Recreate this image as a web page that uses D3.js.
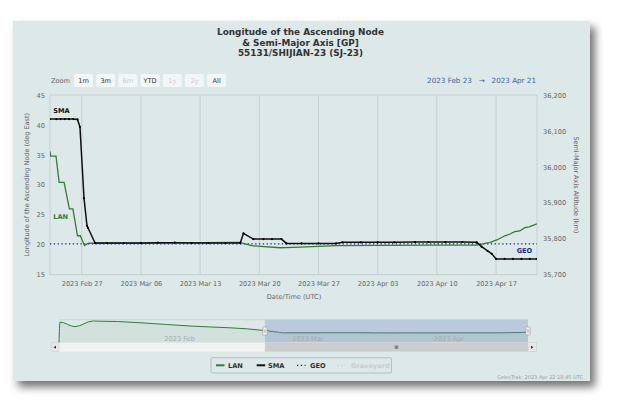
<!DOCTYPE html>
<html><head><meta charset="utf-8">
<script src="https://cdn.jsdelivr.net/npm/d3@7"></script>
<style>
html,body{margin:0;padding:0;background:#fff;}
svg{display:block;font-family:"DejaVu Sans",sans-serif;}
</style></head>
<body>
<svg id="chart" width="625" height="418"></svg>
<script>
// ---------------- DATA ----------------
const titleLines = ["Longitude of the Ascending Node", "& Semi-Major Axis [GP]", "55131/SHIJIAN-23 (SJ-23)"];
const xTickDates = ["2023-02-27","2023-03-06","2023-03-13","2023-03-20","2023-03-27","2023-04-03","2023-04-10","2023-04-17"];
const leftTicks = [15,20,25,30,35,40,45];
const rightTicks = [35700,35800,35900,36000,36100,36200];
const navMonthTicks = ["2023-02-01","2023-03-01","2023-04-01"];
const rangeButtons = ["1m","3m","6m","YTD","1y","2y","All"];
const disabledButtons = ["6m","1y","2y"];
const legendItems = ["LAN","SMA","GEO","Graveyard"];
const geoValue = 35786;

const smaTimes = ["2023-02-23T06:00","2023-02-24T00:00","2023-02-24T12:00","2023-02-25T00:00","2023-02-25T12:00","2023-02-26T00:00","2023-02-26T12:00","2023-02-26T19:00","2023-02-27T06:30","2023-02-27T15:00","2023-02-27T18:00","2023-02-28T14:00","2023-03-02T00:00","2023-03-04T00:00","2023-03-06T00:00","2023-03-08T00:00","2023-03-10T00:00","2023-03-12T00:00","2023-03-14T00:00","2023-03-16T00:00","2023-03-17T18:00","2023-03-18T03:00","2023-03-19T07:00","2023-03-20T12:00","2023-03-21T12:00","2023-03-22T15:00","2023-03-23T05:00","2023-03-25T00:00","2023-03-27T00:00","2023-03-29T02:00","2023-03-29T20:00","2023-04-01T00:00","2023-04-03T00:00","2023-04-05T00:00","2023-04-07T10:00","2023-04-09T00:00","2023-04-11T00:00","2023-04-13T00:00","2023-04-14T17:00","2023-04-15T07:00","2023-04-16T00:00","2023-04-16T12:00","2023-04-17T00:00","2023-04-18T00:00","2023-04-19T00:00","2023-04-20T00:00","2023-04-21T00:00","2023-04-21T20:00"];
const smaValues = [36133,36133,36133,36133,36133,36133,36132,36111,35913,35836,35830,35788,35788,35788,35788,35789,35789,35788,35788,35788,35788,35815,35799,35799,35799,35799,35787,35787,35787,35787,35790,35790,35790,35790,35791,35791,35791,35791,35790,35778,35766,35758,35744,35744,35744,35744,35744,35744];

const lanTimes = ["2023-02-23T06:00","2023-02-23T08:00","2023-02-23T23:00","2023-02-24T08:00","2023-02-24T22:00","2023-02-25T13:00","2023-02-25T23:00","2023-02-26T12:00","2023-02-26T20:00","2023-02-27T08:00","2023-02-27T19:00","2023-03-06T00:00","2023-03-13T00:00","2023-03-17T16:00","2023-03-19T02:00","2023-03-22T11:00","2023-03-24T00:00","2023-03-29T05:00","2023-04-03T00:00","2023-04-10T00:00","2023-04-14T17:00","2023-04-16T07:00","2023-04-17T02:00","2023-04-18T01:00","2023-04-18T14:00","2023-04-19T05:00","2023-04-19T19:00","2023-04-20T10:00","2023-04-20T22:00","2023-04-21T20:00"];
const lanValues = [35.6,34.8,34.8,30.4,30.4,26.0,26.0,21.5,21.5,19.85,20.25,20.25,20.35,20.4,19.85,19.5,19.55,19.85,19.9,19.95,19.95,20.4,20.8,21.5,21.75,22.2,22.3,22.85,23.0,23.5];

const navEarlyTimes = ["2023-01-09T04:00","2023-01-09T09:00","2023-01-12T16:00","2023-01-16T14:00","2023-02-07T00:00"];
const navEarlyValues = [-45,93,62,100,66];

// ---------------- SETUP ----------------
const parse = d3.utcParse("%Y-%m-%dT%H:%M");
const parseDay = d3.utcParse("%Y-%m-%d");
const sma = smaTimes.map((t,i)=>({t:parse(t), v:smaValues[i]}));
const lan = lanTimes.map((t,i)=>({t:parse(t), v:lanValues[i]}));
const nav = navEarlyTimes.map((t,i)=>({t:parse(t), v:navEarlyValues[i]})).concat(lan);

const svg = d3.select("#chart");
const FONT = "DejaVu Sans, sans-serif";
const green = "#2f7d36";

const defs = svg.append("defs");
const f = defs.append("filter").attr("id","shadow").attr("x","-10%").attr("y","-10%").attr("width","125%").attr("height","130%");
f.append("feDropShadow").attr("dx",5).attr("dy",6).attr("stdDeviation",4).attr("flood-color","#000").attr("flood-opacity",0.55);

// card
svg.append("rect").attr("x",13).attr("y",21).attr("width",577).attr("height",360)
  .attr("fill","#dde8e8").attr("filter","url(#shadow)");

// title
svg.append("g").selectAll("text").data(titleLines).join("text")
  .attr("x",300.5).attr("y",(d,i)=>31.7+i*10.8).attr("dy","0.35em")
  .attr("text-anchor","middle").attr("font-weight","bold").attr("font-size",8.9)
  .attr("fill","#333").text(d=>d);

// range selector
svg.append("text").attr("x",51).attr("y",80.7).attr("dy","0.35em").attr("font-size",6.6).attr("fill","#666").text("Zoom");
const btn = svg.append("g").selectAll("g").data(rangeButtons).join("g")
  .attr("transform",(d,i)=>`translate(${74+i*22.2},74)`);
btn.append("rect").attr("width",19).attr("height",13).attr("rx",1.5).attr("fill","#f3f6f6");
btn.append("text").attr("x",9.5).attr("y",6.7).attr("dy","0.35em").attr("text-anchor","middle")
  .attr("font-size",6.6).attr("fill",d=>disabledButtons.includes(d)?"#cfc8cc":"#333").text(d=>d);
svg.append("text").attr("x",536).attr("y",80.7).attr("dy","0.35em").attr("text-anchor","end")
  .attr("font-size",7.2).attr("fill","#3f5f9a").text("2023 Feb 23\u00a0\u00a0\u00a0\u2192\u00a0\u00a0\u00a02023 Apr 21");

// scales
const plot = {l:50, r:537, t:95, b:274.7};
const x = d3.scaleUtc().domain([parse("2023-02-23T06:00"), parse("2023-04-21T20:10")]).range([plot.l, plot.r]);
const yL = d3.scaleLinear().domain([15,45]).range([plot.b, plot.t]);
const yR = d3.scaleLinear().domain([35700,36200]).range([plot.b, plot.t]);

// gridlines
const xt = xTickDates.map(parseDay);
svg.append("g").selectAll("line").data(xt).join("line")
  .attr("x1",d=>x(d)).attr("x2",d=>x(d)).attr("y1",plot.t).attr("y2",plot.b)
  .attr("stroke","#c3cccc").attr("stroke-width",0.8);
svg.append("rect").attr("x",plot.l).attr("y",plot.t).attr("width",plot.r-plot.l).attr("height",plot.b-plot.t)
  .attr("fill","none").attr("stroke","#c3cccc").attr("stroke-width",0.8);

// axes
function styleAxis(g){
  g.select(".domain").remove();
  g.selectAll(".tick line").remove();
  g.selectAll("text").attr("font-family",FONT).attr("font-size",6.6).attr("fill","#666");
}
svg.append("g").attr("transform",`translate(0,${plot.b})`)
  .call(d3.axisBottom(x).tickValues(xt).tickFormat(d3.utcFormat("%Y %b %d")).tickSize(0).tickPadding(7))
  .call(styleAxis);
svg.append("g").attr("transform",`translate(${plot.l},0)`)
  .call(d3.axisLeft(yL).tickValues(leftTicks).tickSize(0).tickPadding(5))
  .call(styleAxis);
svg.append("g").attr("transform",`translate(${plot.r},0)`)
  .call(d3.axisRight(yR).tickValues(rightTicks).tickFormat(d3.format(",")).tickSize(0).tickPadding(6))
  .call(styleAxis);

// axis titles
svg.append("text").attr("transform",`translate(26.5,${(plot.t+plot.b)/2}) rotate(-90)`).attr("dy","0.35em")
  .attr("text-anchor","middle").attr("font-size",6.5).attr("fill","#666").text("Longitude of the Ascending Node (deg East)");
svg.append("text").attr("transform",`translate(576,${(plot.t+plot.b)/2}) rotate(90)`).attr("dy","0.35em")
  .attr("text-anchor","middle").attr("font-size",6.5).attr("fill","#666").text("Semi-Major Axis Altitude (km)");
svg.append("text").attr("x",294).attr("y",296.5).attr("dy","0.35em")
  .attr("text-anchor","middle").attr("font-size",6.6).attr("fill","#666").text("Date/Time (UTC)");

// clip
defs.append("clipPath").attr("id","plotclip").append("rect")
  .attr("x",plot.l).attr("y",plot.t).attr("width",plot.r-plot.l).attr("height",plot.b-plot.t);
const pg = svg.append("g").attr("clip-path","url(#plotclip)");

// GEO line
pg.append("line").attr("x1",plot.l).attr("x2",plot.r).attr("y1",yR(geoValue)).attr("y2",yR(geoValue))
  .attr("stroke","#1b1ba8").attr("stroke-width",1.3).attr("stroke-dasharray","1.3,2.5");

// LAN line
pg.append("path").datum(lan).attr("fill","none").attr("stroke",green).attr("stroke-width",1.3)
  .attr("d",d3.line().x(d=>x(d.t)).y(d=>yL(d.v)));
// SMA line
pg.append("path").datum(sma).attr("fill","none").attr("stroke","#111").attr("stroke-width",1.5)
  .attr("d",d3.line().x(d=>x(d.t)).y(d=>yR(d.v)));
pg.append("g").selectAll("circle").data(sma).join("circle")
  .attr("cx",d=>x(d.t)).attr("cy",d=>yR(d.v)).attr("r",1.1).attr("fill","#000");

// series labels
svg.append("text").attr("x",53.3).attr("y",110.7).attr("dy","0.35em").attr("font-weight","bold").attr("font-size",6.6).attr("fill","#111").text("SMA");
svg.append("text").attr("x",53.3).attr("y",216.7).attr("dy","0.35em").attr("font-weight","bold").attr("font-size",6.6).attr("fill",green).text("LAN");
svg.append("text").attr("x",516.7).attr("y",250.7).attr("dy","0.35em").attr("font-weight","bold").attr("font-size",6.6).attr("fill","#1b2aa0").text("GEO");

// ---------------- NAVIGATOR ----------------
const navTop = 319.7, navBot = 342.7;
const nx = d3.scaleUtc().domain([parse("2023-01-09T04:00"), parse("2023-04-21T20:10")]).range([59,528]);
const ny = d3.scaleLinear().domain(d3.extent(nav, d=>d.v)).range([342.5, 321]);
svg.append("path").datum(nav).attr("fill",green).attr("fill-opacity",0.06)
  .attr("d",d3.area().x(d=>nx(d.t)).y0(navBot).y1(d=>ny(d.v)).curve(d3.curveMonotoneX));
svg.append("path").datum(nav).attr("fill","none").attr("stroke",green).attr("stroke-width",1)
  .attr("d",d3.line().x(d=>nx(d.t)).y(d=>ny(d.v)).curve(d3.curveMonotoneX));
const selL = nx(parse("2023-02-23T06:00")), selR = nx(parse("2023-04-21T20:10"));
svg.append("rect").attr("x",selL).attr("y",navTop).attr("width",selR-selL).attr("height",navBot-navTop)
  .attr("fill","rgb(102,133,194)").attr("fill-opacity",0.3);
svg.append("line").attr("x1",59).attr("x2",528).attr("y1",navTop).attr("y2",navTop).attr("stroke","#c8cccc").attr("stroke-width",0.7);
// nav month labels
svg.append("g").selectAll("text").data(navMonthTicks.map(parseDay)).join("text")
  .attr("x",d=>nx(d)+1).attr("y",339).attr("dy","0.35em").attr("font-size",6.6).attr("fill","#a3acac")
  .text(d3.utcFormat("%Y %b"));
// handles
[selL, selR].forEach(hx=>{
  svg.append("rect").attr("x",hx-2.2).attr("y",327).attr("width",4.4).attr("height",8).attr("rx",0.5)
    .attr("fill","#f2f2f2").attr("stroke","#999").attr("stroke-width",0.6);
  [-0.7,0.7].forEach(o=>svg.append("line").attr("x1",hx+o).attr("x2",hx+o).attr("y1",329).attr("y2",333).attr("stroke","#999").attr("stroke-width",0.5));
});
// scrollbar
const sbT = 342.7, sbH = 9;
svg.append("rect").attr("x",59).attr("y",sbT).attr("width",469).attr("height",sbH).attr("fill","#f2f2f2");
svg.append("rect").attr("x",selL).attr("y",sbT).attr("width",selR-selL).attr("height",sbH).attr("fill","#cdcdcd");
svg.append("rect").attr("x",51).attr("y",sbT).attr("width",8).attr("height",sbH).attr("fill","#e6e6e6").attr("stroke","#ccc").attr("stroke-width",0.5);
svg.append("rect").attr("x",528).attr("y",sbT).attr("width",8.5).attr("height",sbH).attr("fill","#e6e6e6").attr("stroke","#ccc").attr("stroke-width",0.5);
svg.append("path").attr("d",`M56,${sbT+3} L53.5,${sbT+4.5} L56,${sbT+6} Z`).attr("fill","#333");
svg.append("path").attr("d",`M531,${sbT+3} L533.5,${sbT+4.5} L531,${sbT+6} Z`).attr("fill","#333");
const gx = (selL+selR)/2;
[-1.3,0,1.3].forEach(o=>svg.append("line").attr("x1",gx+o).attr("x2",gx+o).attr("y1",sbT+2.8).attr("y2",sbT+6.2).attr("stroke","#333").attr("stroke-width",0.6));

// ---------------- LEGEND ----------------
svg.append("rect").attr("x",211).attr("y",357.7).attr("width",180.5).attr("height",15.3).attr("rx",1.5)
  .attr("fill","none").attr("stroke","#a5acac").attr("stroke-width",0.7);
const legendSym = {LAN:{x:216, c:green, dash:null, tx:228}, SMA:{x:256.7, c:"#111", dash:null, tx:268},
  GEO:{x:297, c:"#1b1ba8", dash:"1.3,2.5", tx:310}, Graveyard:{x:337, c:"#cccccc", dash:"1.3,2.5", tx:351}};
const lg = svg.append("g").selectAll("g").data(legendItems).join("g");
lg.append("line").attr("x1",d=>legendSym[d].x).attr("x2",d=>legendSym[d].x+8.5).attr("y1",365.3).attr("y2",365.3)
  .attr("stroke",d=>legendSym[d].c).attr("stroke-width",d=>legendSym[d].dash?1.3:2)
  .attr("stroke-dasharray",d=>legendSym[d].dash);
lg.append("text").attr("x",d=>legendSym[d].tx).attr("y",365.3).attr("dy","0.35em").attr("font-weight","bold")
  .attr("font-size",6.6).attr("fill",d=>d==="Graveyard"?"#cccccc":"#333").text(d=>d);

// credits
svg.append("text").attr("x",583).attr("y",377.7).attr("dy","0.35em").attr("text-anchor","end")
  .attr("font-size",5).attr("fill","#999").text("CelesTrak: 2023 Apr 22 18:45 UTC");
</script>
</body></html>
